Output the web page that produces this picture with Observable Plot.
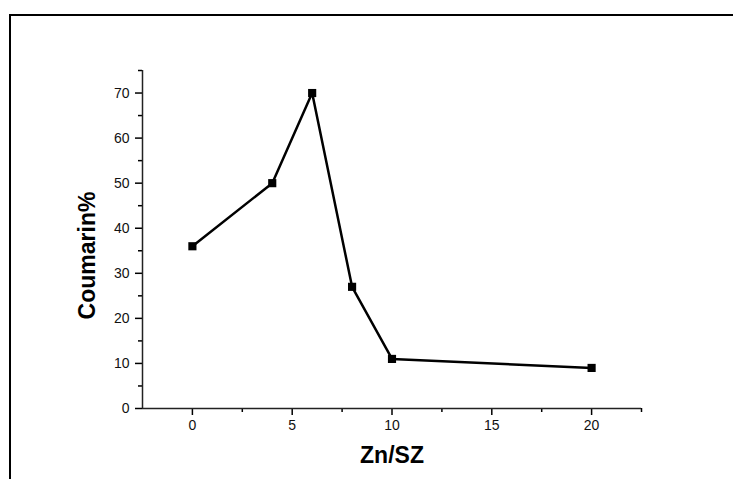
<!DOCTYPE html>
<html>
<head>
<meta charset="utf-8">
<script src="https://cdn.jsdelivr.net/npm/d3@7"></script>
<script src="https://cdn.jsdelivr.net/npm/@observablehq/plot@0.6"></script>
<style>
  html, body { margin: 0; padding: 0; background: #fff; }
  #wrap { position: relative; width: 733px; height: 479px; overflow: hidden; }
  #border { position: absolute; left: 9px; top: 14px; width: 724px; height: 465px;
            border-top: 2px solid #000; border-left: 2px solid #000; box-sizing: border-box; pointer-events: none; }
</style>
</head>
<body>
<div id="wrap"><div id="border"></div></div>
<script>
const znRatio = [0, 4, 6, 8, 10, 20];
const coumarin = [36, 50, 70, 27, 11, 9];
const xMajor = [0, 5, 10, 15, 20];
const xMinor = [2.5, 7.5, 12.5, 17.5, 22.5];
const yMajor = [0, 10, 20, 30, 40, 50, 60, 70];
const yMinor = [5, 15, 25, 35, 45, 55, 65, 75];
const xLabel = "Zn/SZ";
const yLabel = "Coumarin%";

const data = znRatio.map((x, i) => ({x, y: coumarin[i]}));
const xMin = -2.5, xMax = 22.5, yMin = 0, yMax = 75;

const chart = Plot.plot({
  width: 733,
  height: 479,
  marginLeft: 142,
  marginRight: 92,
  marginTop: 70,
  marginBottom: 71,
  style: {fontFamily: "'Liberation Sans', Arial, sans-serif", fontSize: "14px", color: "#000", background: "transparent"},
  x: {domain: [xMin, xMax]},
  y: {domain: [yMin, yMax]},
  marks: [
    Plot.axisX({ticks: xMajor, tickSize: 7, label: null, strokeWidth: 1.5, tickFormat: () => ""}),
    Plot.axisX({ticks: xMinor, tickSize: 4, label: null, strokeWidth: 1.5, tickFormat: () => ""}),
    Plot.axisY({ticks: yMajor, tickSize: 7, label: null, strokeWidth: 1.5, tickFormat: () => ""}),
    Plot.axisY({ticks: yMinor, tickSize: 4, label: null, strokeWidth: 1.5, tickFormat: () => ""}),
    Plot.text(xMajor, {x: d => d, y: yMin, dy: 17, text: d => String(d), fontSize: 14, fill: "#111", lineAnchor: "middle", textAnchor: "middle"}),
    Plot.text(yMajor, {x: xMin, y: d => d, dx: -13, text: d => String(d), fontSize: 14, fill: "#111", lineAnchor: "middle", textAnchor: "end"}),
    Plot.ruleY([yMin], {x1: xMin, x2: xMax, stroke: "#222", strokeWidth: 1.5}),
    Plot.ruleX([xMin], {y1: yMin, y2: yMax, stroke: "#222", strokeWidth: 1.5}),
    Plot.line(data, {x: "x", y: "y", stroke: "#000", strokeWidth: 2.5}),
    Plot.dot(data, {x: "x", y: "y", symbol: "square", r: 4.6, fill: "#000", stroke: "none"}),
    Plot.text([yLabel], {frameAnchor: "left", dx: -55, dy: 16, rotate: -90, fontSize: 23, fontWeight: "bold", fill: "#000", lineAnchor: "middle", textAnchor: "middle"}),
    Plot.text([xLabel], {frameAnchor: "bottom", dy: 47, fontSize: 23, fontWeight: "bold", fill: "#000", lineAnchor: "middle", textAnchor: "middle"})
  ]
});
document.getElementById("wrap").prepend(chart);
</script>
</body>
</html>
